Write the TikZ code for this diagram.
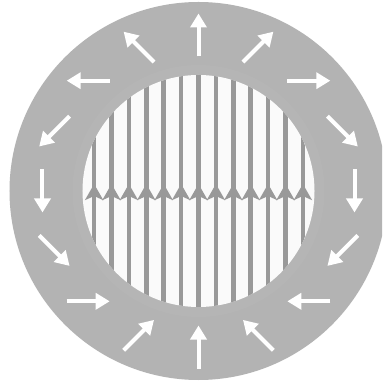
\documentclass[tikz,border=0pt]{standalone}
\usetikzlibrary{arrows.meta}
\definecolor{ringgray}{RGB}{179,179,179}
\definecolor{bandgray}{RGB}{181,181,181}
\definecolor{stripegray}{RGB}{153,153,153}
\definecolor{innerwhite}{RGB}{250,250,250}
\tikzset{
  ringarrow/.style={draw=white, line width=4pt, -{Triangle[length=14pt,width=16pt]}},
  stripe/.style={draw=stripegray, line width=4.6pt},
  stripehead/.style={draw=stripegray, line width=4.6pt, -{Stealth[length=16pt,width=18pt,inset=4pt]}}
}
\begin{document}
\begin{tikzpicture}[x=1pt,y=1pt]
  \useasboundingbox (-198.5,-196) rectangle (183.5,191);
  \fill[white] (-198.5,-196) rectangle (183.5,191);
  \begin{scope}
    \clip (-198.5,-196) rectangle (183.5,191);
    \fill[ringgray] (0,0) circle (189);
  \end{scope}
  \fill[bandgray] (0,0) circle (126);
  \fill[innerwhite] (0,0) circle (116);
  \begin{scope}
    \clip (0,0) circle (116);
    \foreach \k in {-6,...,6} {
      \draw[stripe] (\k*17.4,-120) -- (\k*17.4,120);
    }
  \end{scope}
  \foreach \k in {-6,...,6} {
    \draw[stripehead] (\k*17.4,-12) -- (\k*17.4,7);
  }
  \foreach \t in {0,22.5,...,337.5} {
    \pgfmathsetmacro\p{2*\t-90}
    \draw[ringarrow, shift={(\t:156)}] (\p+180:21.5) -- (\p:21.5);
  }
\end{tikzpicture}
\end{document}
